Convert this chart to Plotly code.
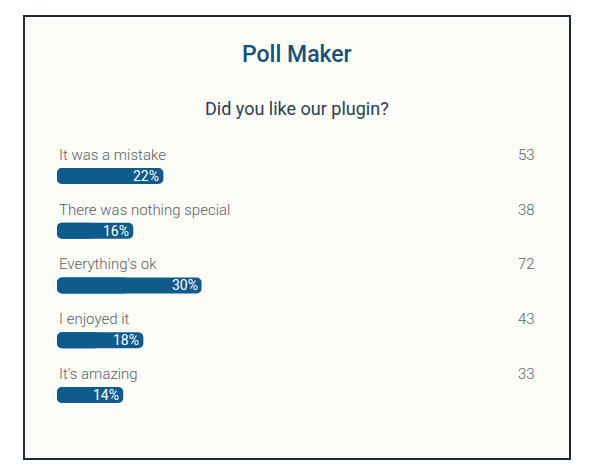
import plotly.graph_objects as go

answers = ["It was a mistake", "There was nothing special", "Everything's ok", "I enjoyed it", "It's amazing"]
votes = [53, 38, 72, 43, 33]
title = "Poll Maker"
question = "Did you like our plugin?"

total = sum(votes)
pcts = [v / total * 100 for v in votes]
pct_labels = [f"{round(p)}%" for p in pcts]
ys = list(range(len(answers)))

BAR = "#0f5b8c"
BAR_W = 0.29

fig = go.Figure()
# full bar (rounded at right end)
fig.add_trace(go.Bar(
    y=ys, x=pcts, base=[0] * len(pcts),
    orientation="h", width=BAR_W, marker=dict(color=BAR, line=dict(width=0), cornerradius=5),
    hoverinfo="skip", showlegend=False))
# overlay on the left part (rounded at left end)
fig.add_trace(go.Bar(
    y=ys, x=[-p * 0.5 for p in pcts], base=[p * 0.5 for p in pcts],
    orientation="h", width=BAR_W, marker=dict(color=BAR, line=dict(width=0), cornerradius=5),
    hoverinfo="skip", showlegend=False))

annotations = []
label_font = dict(family="Roboto", size=15, color="#5a5f66", weight=300)
for i, (a, v, p, pl) in enumerate(zip(answers, votes, pcts, pct_labels)):
    annotations.append(dict(x=0, y=i - 0.385, xref="x", yref="y", text=a, showarrow=False,
                            xanchor="left", yanchor="middle", font=label_font))
    annotations.append(dict(x=100, y=i - 0.385, xref="x", yref="y", text=str(v), showarrow=False,
                            xanchor="right", yanchor="middle", font=label_font))
    annotations.append(dict(x=p, y=i, xref="x", yref="y", text=pl, showarrow=False,
                            xanchor="right", yanchor="middle", xshift=-2,
                            font=dict(family="Roboto", size=14, color="white")))

annotations.append(dict(x=0.5, y=0.912, xref="paper", yref="paper", text=title, showarrow=False,
                        xanchor="center", yanchor="middle",
                        font=dict(family="Roboto", size=23, color="#17507a", weight=500)))
annotations.append(dict(x=0.5, y=0.792, xref="paper", yref="paper", text=question, showarrow=False,
                        xanchor="center", yanchor="middle",
                        font=dict(family="Roboto", size=18, color="#2b3d52")))

fig.update_layout(
    width=591, height=463,
    margin=dict(l=49, r=62, t=8, b=12, autoexpand=False),
    paper_bgcolor="white", plot_bgcolor="rgba(0,0,0,0)",
    barmode="overlay",
    xaxis=dict(range=[0, 100], visible=False, fixedrange=True),
    yaxis=dict(range=[5.169, -2.922], visible=False, fixedrange=True),
    annotations=annotations,
    shapes=[dict(type="rect", xref="paper", yref="paper",
                 x0=(24 - 57) / 480, x1=(570 - 57) / 480, y0=0, y1=1,
                 line=dict(color="#1b2a3a", width=2), fillcolor="#fbfcf8", layer="below")],
)

fig.write_html("out.html", config={"displayModeBar": False})
